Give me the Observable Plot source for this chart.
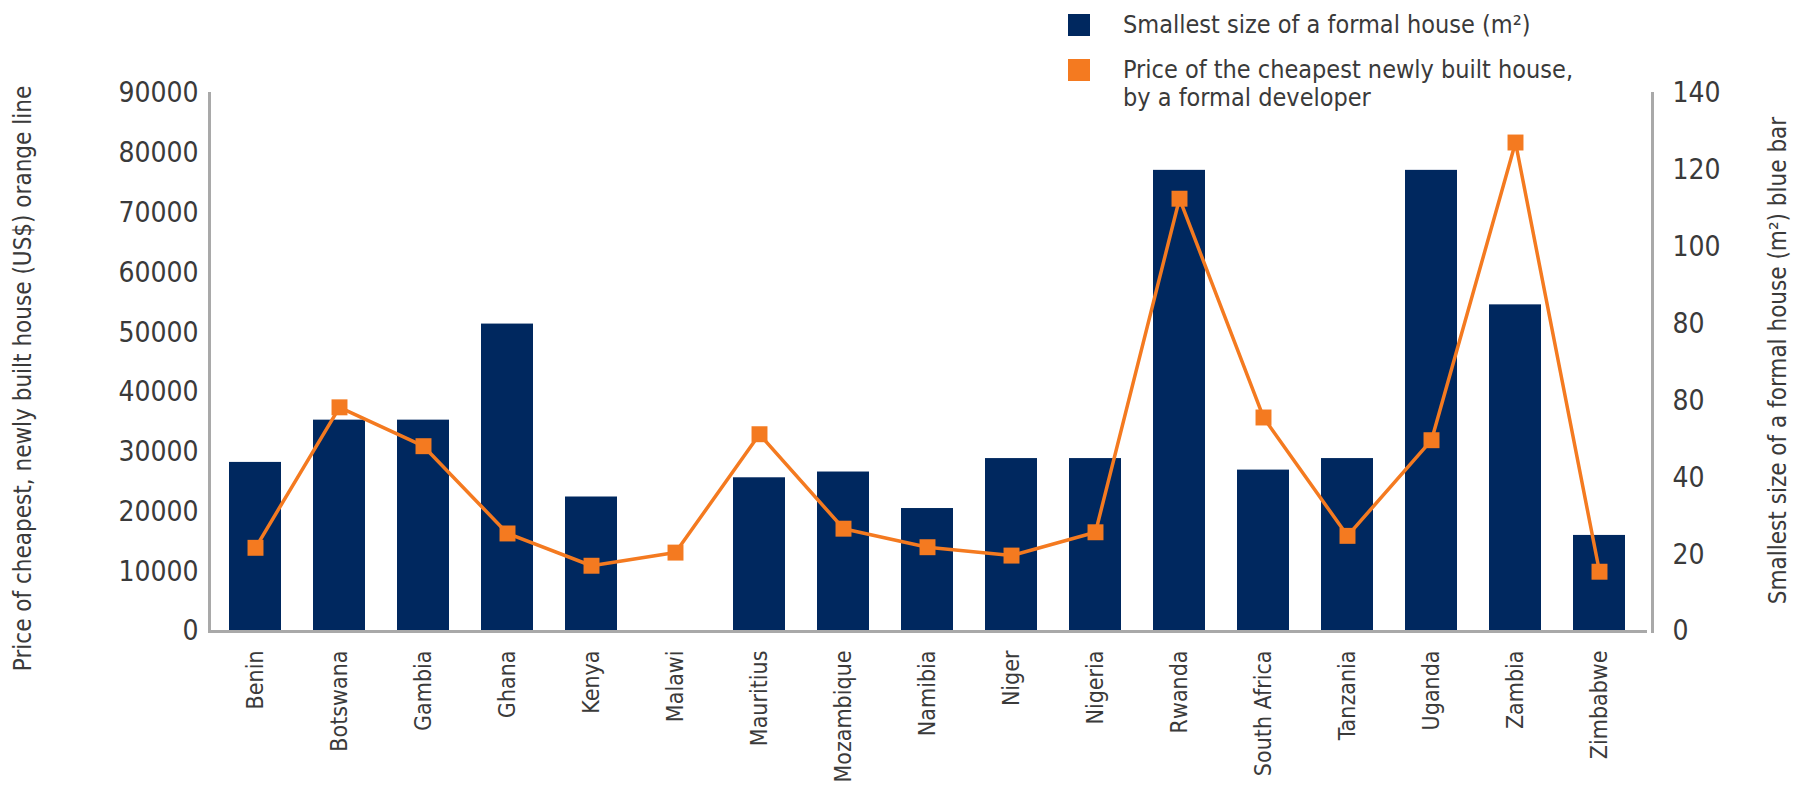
<!DOCTYPE html>
<html>
<head>
<meta charset="utf-8">
<script src="https://cdn.jsdelivr.net/npm/d3@7"></script>
<script src="https://cdn.jsdelivr.net/npm/@observablehq/plot@0.6"></script>
<style>
  html, body { margin: 0; padding: 0; background: #fff; }
  #wrap { position: relative; width: 1804px; height: 790px; font-family: "Liberation Sans Narrow", "DejaVu Sans Condensed", "DejaVu Sans", sans-serif; font-stretch: condensed; }
  #legend { position: absolute; left: 1068px; top: 11px; font-size: 25px; color: #3a3a3a; line-height: 28px; }
  .li { position: relative; padding-left: 55px; margin-bottom: 17px; }
  .sw { position: absolute; left: 0; top: 3px; width: 22px; height: 22px; }
  svg text { font-stretch: condensed; }
</style>
</head>
<body>
<div id="wrap">
  <div id="legend">
    <div class="li"><span class="sw" style="background:#00285f"></span>Smallest size of a formal house (m²)</div>
    <div class="li"><span class="sw" style="background:#f47a20"></span>Price of the cheapest newly built house,<br>by a formal developer</div>
  </div>
  <div id="chart"></div>
</div>
<script>
const countries = ["Benin","Botswana","Gambia","Ghana","Kenya","Malawi","Mauritius","Mozambique","Namibia","Niger","Nigeria","Rwanda","South Africa","Tanzania","Uganda","Zambia","Zimbabwe"];
const sizeM2 = [44, 55, 55, 80, 35, null, 40, 41.5, 32, 45, 45, 120, 42, 45, 120, 85, 25];
const priceUSD = [14000, 37500, 31000, 16400, 11000, 13200, 33000, 17200, 14100, 12700, 16600, 72400, 35800, 16000, 32000, 81800, 10000];
const leftTicks = [0, 10000, 20000, 30000, 40000, 50000, 60000, 70000, 80000, 90000];
const rightTicks = [0, 20, 40, 60, 80, 100, 120, 140];
const rightTickLabels = ["0", "20", "40", "80", "80", "100", "120", "140"];
const leftTitle = "Price of cheapest, newly built house (US$) orange line";
const rightTitle = "Smallest size of a formal house (m²) blue bar";

const priceMax = 90000, sizeMax = 140;
const k = priceMax / sizeMax;
const rows = countries.map((c, i) => ({country: c, size: sizeM2[i], sizeScaled: sizeM2[i] == null ? null : sizeM2[i] * k, price: priceUSD[i]}));
const rightPos = rightTicks.map(v => v * k);
const rightMap = new Map(rightPos.map((p, i) => [p, rightTickLabels[i]]));

const navy = "#00285f", orange = "#f47a20", axisGray = "#a9a9a9", textGray = "#3a3a3a";
const font = '"Liberation Sans Narrow", "DejaVu Sans Condensed", "DejaVu Sans", sans-serif';

const chart = Plot.plot({
  width: 1804, height: 790,
  marginLeft: 209, marginRight: 159, marginTop: 93, marginBottom: 159,
  style: {fontFamily: font, color: textGray, background: "transparent"},
  x: {domain: countries, paddingInner: 0.385, paddingOuter: 0.19},
  y: {domain: [0, priceMax]},
  marks: [
    Plot.barY(rows.filter(d => d.sizeScaled != null), {x: "country", y: "sizeScaled", fill: navy}),
    Plot.line(rows, {x: "country", y: "price", stroke: orange, strokeWidth: 3.5}),
    Plot.dot(rows, {x: "country", y: "price", symbol: "square", r: 9, fill: orange}),
    Plot.frame({anchor: "left", stroke: axisGray, strokeWidth: 3}),
    Plot.frame({anchor: "bottom", stroke: axisGray, strokeWidth: 3}),
    Plot.frame({anchor: "right", stroke: axisGray, strokeWidth: 3, dx: 7}),
    Plot.axisY({anchor: "left", ticks: leftTicks, tickFormat: d => String(d), tickSize: 0, tickPadding: 11, fontSize: 28, label: null}),
    Plot.axisY({anchor: "right", ticks: rightPos, tickFormat: d => rightMap.get(d), tickSize: 0, tickPadding: 27, fontSize: 28, label: null}),
    Plot.axisX({anchor: "bottom", tickRotate: -90, tickSize: 0, tickPadding: 19, fontSize: 23, label: null}),
    Plot.text([leftTitle], {frameAnchor: "left", text: d => d, rotate: -90, dx: -186, dy: 16, fontSize: 24, fill: textGray, textAnchor: "middle", lineAnchor: "middle"}),
    Plot.text([rightTitle], {frameAnchor: "right", text: d => d, rotate: -90, dx: 133, dy: -2, fontSize: 24, fill: textGray, textAnchor: "middle", lineAnchor: "middle"})
  ]
});
document.getElementById("chart").appendChild(chart);
</script>
</body>
</html>
